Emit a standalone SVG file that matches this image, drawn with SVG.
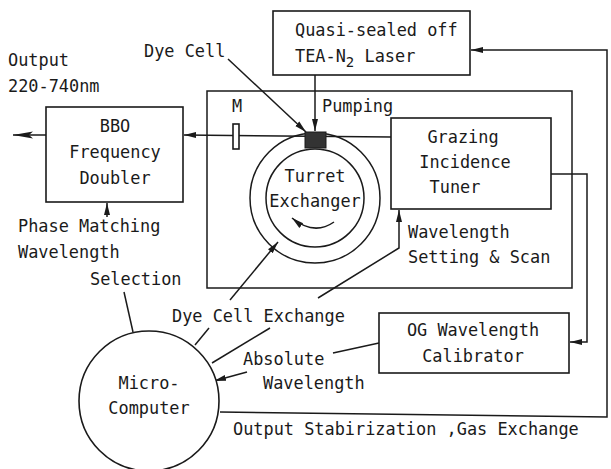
<svg xmlns="http://www.w3.org/2000/svg" width="611" height="469" viewBox="0 0 611 469">
<style>
.t{font-family:"DejaVu Sans Mono","Liberation Mono",monospace;font-size:16.9px;fill:#1a1a1a}
.c{text-anchor:middle}
.s{fill:none;stroke:#1a1a1a;stroke-width:1.5}
.b{fill:#fff;stroke:#1a1a1a;stroke-width:1.6}
</style>
<defs>
<marker id="a" viewBox="0 0 12 8" refX="12" refY="4" markerWidth="12" markerHeight="8" markerUnits="userSpaceOnUse" orient="auto">
<path d="M0,1 L12,4 L0,7 Z" fill="#1a1a1a"/>
</marker>
<marker id="big" viewBox="0 0 20 8" refX="20" refY="4" markerWidth="20" markerHeight="8" markerUnits="userSpaceOnUse" orient="auto">
<path d="M0,0.5 L20,4 L0,7.5 L4,4 Z" fill="#1a1a1a"/>
</marker>
</defs>
<rect width="611" height="469" fill="#fff"/>

<g id="enclosure">
<rect x="207" y="91" width="365" height="197" class="s"/>
</g>

<g id="connectors">
<line x1="315" y1="75" x2="315" y2="131" class="s" marker-end="url(#a)"/>
<line x1="228" y1="59" x2="306" y2="132" class="s" marker-end="url(#a)"/>
<line x1="391" y1="137" x2="184" y2="135" class="s" marker-end="url(#a)"/>
<line x1="46" y1="135" x2="13" y2="135" class="s" marker-end="url(#big)"/>
<line x1="107" y1="217" x2="107" y2="203" class="s" marker-end="url(#a)"/>
<line x1="124" y1="292" x2="133" y2="332" class="s"/>
<line x1="209" y1="328" x2="195" y2="345" class="s"/>
<line x1="270" y1="328" x2="212" y2="363" class="s"/>
<line x1="230" y1="300" x2="278" y2="242" class="s" marker-end="url(#a)"/>
<polyline points="318,298 399,248 399,210" class="s" marker-end="url(#a)"/>
<polyline points="551,174 587,174 587,342 570,342" class="s" marker-end="url(#a)"/>
<line x1="379" y1="343" x2="333" y2="353" class="s"/>
<line x1="247" y1="372" x2="214" y2="381" class="s" marker-end="url(#a)"/>
<polyline points="220,412 607,417 607,50 471,50" class="s" marker-end="url(#a)"/>
<path d="M334,222 Q314,236 292,218" class="s" marker-end="url(#a)"/>
</g>

<g id="laser">
<rect x="273" y="11" width="197" height="64" class="b"/>
<text x="295" y="36" class="t">Quasi-sealed off</text>
<text x="295" y="62" class="t">TEA-N<tspan dy="5" font-size="14">2</tspan><tspan dy="-5"> Laser</tspan></text>
</g>

<g id="bbo">
<rect x="46" y="107" width="137" height="95" class="b"/>
<text x="115" y="132" class="t c">BBO</text>
<text x="115" y="158" class="t c">Frequency</text>
<text x="115" y="184" class="t c">Doubler</text>
</g>

<g id="mirror">
<rect x="233" y="124" width="6" height="25" class="b"/>
<text x="237" y="112" class="t c">M</text>
</g>

<g id="turret">
<circle cx="315" cy="198" r="65" class="s"/>
<circle cx="315" cy="198" r="49" class="s"/>
<text x="315" y="182" class="t c">Turret</text>
<text x="315" y="207" class="t c">Exchanger</text>
</g>

<g id="dyecell">
<rect x="305" y="132" width="21" height="16" fill="#333" stroke="#1a1a1a" stroke-width="1"/>
</g>

<g id="tuner">
<rect x="391" y="118" width="160" height="91" class="b"/>
<text x="463" y="143" class="t c">Grazing</text>
<text x="465" y="168" class="t c">Incidence</text>
<text x="455" y="193" class="t c">Tuner</text>
</g>

<g id="calibrator">
<rect x="379" y="313" width="190" height="60" class="b"/>
<text x="473" y="336" class="t c">OG Wavelength</text>
<text x="473" y="362" class="t c">Calibrator</text>
</g>

<g id="computer">
<circle cx="149" cy="401" r="70" class="b"/>
<text x="149" y="389" class="t c">Micro-</text>
<text x="149" y="414" class="t c">Computer</text>
</g>

<g id="labels">
<text x="8" y="66" class="t">Output</text>
<text x="8" y="92" class="t">220-740nm</text>
<text x="144" y="57" class="t">Dye Cell</text>
<text x="322" y="112" class="t">Pumping</text>
<text x="18" y="232" class="t">Phase Matching</text>
<text x="18" y="258" class="t">Wavelength</text>
<text x="90" y="285" class="t">Selection</text>
<text x="408" y="238" class="t">Wavelength</text>
<text x="408" y="263" class="t">Setting &amp; Scan</text>
<text x="172" y="322" class="t">Dye Cell Exchange</text>
<text x="243" y="365" class="t">Absolute</text>
<text x="263" y="389" class="t">Wavelength</text>
<text x="233" y="435" class="t">Output Stabirization ,Gas Exchange</text>
</g>
</svg>
